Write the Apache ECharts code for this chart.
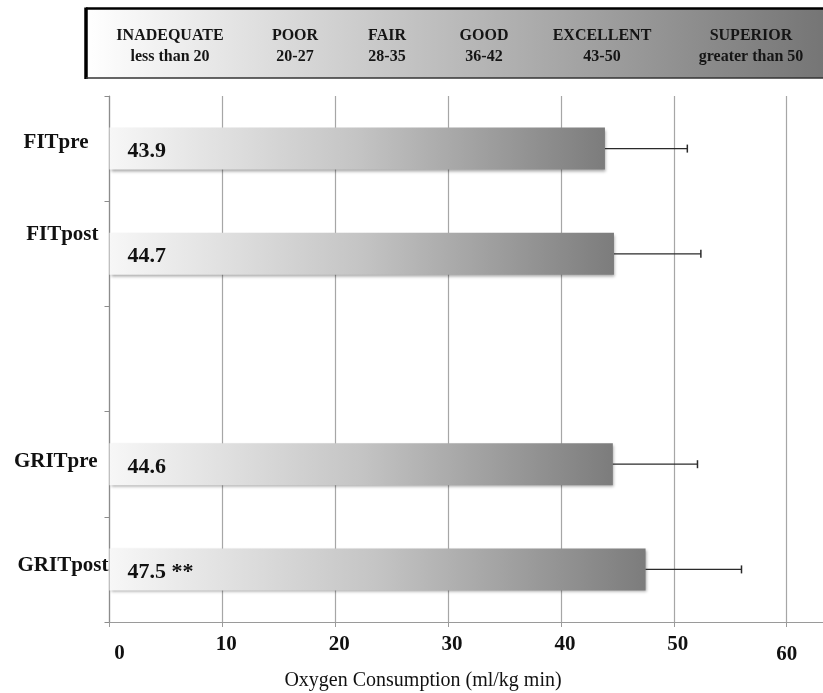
<!DOCTYPE html>
<html>
<head>
<meta charset="utf-8">
<title>Oxygen Consumption</title>
<script src="https://cdn.jsdelivr.net/npm/echarts@6/dist/echarts.min.js"></script>
<style>
  html, body { margin: 0; padding: 0; background: #ffffff; }
  #chart { width: 823px; height: 693px; }
</style>
</head>
<body>
<div id="chart"></div>
<script>
// Groups (blank slot separates FIT from GRIT)
const groups = ['FITpre', 'FITpost', '', 'GRITpre', 'GRITpost'];
// Mean VO2 (ml/kg min) and standard deviation
const means = [43.9, 44.7, null, 44.6, 47.5];
const sds = [7.3, 7.7, null, 7.5, 8.5];
// Significance marks appended to value labels
const marks = ['', '', '', '', ' **'];
// Fitness rating bands shown in the header strip
const bandNames = ['INADEQUATE', 'POOR', 'FAIR', 'GOOD', 'EXCELLENT', 'SUPERIOR'];
const bandRanges = ['less than 20', '20-27', '28-35', '36-42', '43-50', 'greater than 50'];
const axisTitle = 'Oxygen Consumption (ml/kg min)';

const SERIF = '"Liberation Serif", "Times New Roman", serif';

// Layout tweaks for the text elements
const bandCenters = [170, 295, 387, 484, 602, 751];
const groupNudge = [[21, 13], [11, 38], [0, 0], [12, 6], [1, 8]]; // [padRight, padBottom]
const tickNudge = { 0: [9, 20], 60: [10, 0] };                   // [padTop, padLeft]

const chart = echarts.init(document.getElementById('chart'), null, { renderer: 'canvas' });

const richGroups = {};
groupNudge.forEach((n, i) => {
  richGroups['g' + i] = {
    fontFamily: SERIF, fontWeight: 'bold', fontSize: 21, color: '#111',
    padding: [0, n[0], n[1], 0]
  };
});

const richTicks = {
  t: { fontFamily: SERIF, fontWeight: 'bold', fontSize: 21, color: '#111', padding: [0, 0, 0, 8] }
};
Object.keys(tickNudge).forEach(k => {
  richTicks['t' + k] = {
    fontFamily: SERIF, fontWeight: 'bold', fontSize: 21, color: '#111',
    padding: [tickNudge[k][0], 0, 0, tickNudge[k][1]]
  };
});

const errData = [];
means.forEach((m, i) => {
  if (m != null) errData.push([m, m + sds[i], i]);
});

const headerTexts = bandNames.map((name, i) => ({
  type: 'text',
  style: {
    text: name + '\n' + bandRanges[i],
    x: bandCenters[i], y: 46,
    align: 'center', verticalAlign: 'middle',
    font: 'bold 16px ' + SERIF,
    lineHeight: 21,
    fill: '#151515'
  },
  z: 10
}));

const option = {
  animation: false,
  backgroundColor: '#ffffff',
  // The value axis runs on past the right edge of the canvas (60 is the last visible tick)
  grid: {
    left: 109.5, top: 96, width: 790, height: 526,
    containLabel: false,
    outerBoundsMode: 'none'
  },
  xAxis: {
    type: 'value',
    min: 0, max: 70, interval: 10,
    axisLine: { show: true, lineStyle: { color: '#9a9a9a', width: 1.2 } },
    axisTick: { show: true, length: 5, lineStyle: { color: '#9a9a9a' } },
    splitLine: { show: true, lineStyle: { color: '#a6a6a6', width: 1.2 } },
    axisLabel: {
      margin: 12,
      formatter: v => (v > 60 ? '' : (tickNudge[v] ? '{t' + v + '|' + v + '}' : '{t|' + v + '}')),
      rich: richTicks
    }
  },
  yAxis: {
    type: 'category',
    inverse: true,
    data: groups,
    axisLine: { show: true, lineStyle: { color: '#8c8c8c', width: 1.2 } },
    axisTick: { show: true, length: 5, lineStyle: { color: '#8c8c8c' } },
    splitLine: { show: false },
    axisLabel: {
      margin: 0,
      formatter: (v, i) => (v ? '{g' + i + '|' + v + '}' : ''),
      rich: richGroups
    }
  },
  series: [
    {
      type: 'bar',
      data: means,
      barWidth: 42,
      itemStyle: {
        color: new echarts.graphic.LinearGradient(0, 0, 1, 0, [
          { offset: 0, color: '#f7f7f7' },
          { offset: 0.5, color: '#c4c4c4' },
          { offset: 1, color: '#7c7c7c' }
        ]),
        shadowColor: 'rgba(0,0,0,0.35)',
        shadowBlur: 3,
        shadowOffsetX: 1,
        shadowOffsetY: 2
      },
      label: {
        show: true,
        position: 'insideLeft',
        distance: 18,
        offset: [0, 3],
        formatter: p => (p.value == null ? '' : p.value.toFixed(1) + marks[p.dataIndex]),
        fontFamily: SERIF,
        fontWeight: 'bold',
        fontSize: 22,
        color: '#111'
      },
      z: 3
    },
    {
      type: 'custom',
      data: errData,
      encode: { x: [0, 1], y: 2 },
      renderItem: (params, api) => {
        const yi = api.value(2);
        const p0 = api.coord([api.value(0), yi]);
        const p1 = api.coord([api.value(1), yi]);
        const cap = 4;
        return {
          type: 'group',
          children: [
            { type: 'line', shape: { x1: p0[0], y1: p0[1], x2: p1[0], y2: p1[1] },
              style: { stroke: '#2a2a2a', lineWidth: 1.2 } },
            { type: 'line', shape: { x1: p1[0], y1: p1[1] - cap, x2: p1[0], y2: p1[1] + cap },
              style: { stroke: '#2a2a2a', lineWidth: 1.5 } }
          ]
        };
      },
      z: 4
    }
  ],
  graphic: [
    // Header strip with rating bands
    {
      type: 'rect',
      shape: { x: 86, y: 9, width: 760, height: 69 },
      style: {
        fill: new echarts.graphic.LinearGradient(0, 0, 1, 0, [
          { offset: 0, color: '#ffffff' },
          { offset: 1, color: '#717171' }
        ]),
        stroke: null
      },
      z: 5
    },
    { type: 'line', shape: { x1: 86, y1: 8.5, x2: 846, y2: 8.5 }, style: { stroke: '#000', lineWidth: 2.5 }, z: 6 },
    { type: 'line', shape: { x1: 86, y1: 7.5, x2: 86, y2: 79 }, style: { stroke: '#000', lineWidth: 3.5 }, z: 6 },
    { type: 'line', shape: { x1: 86, y1: 78, x2: 846, y2: 78 }, style: { stroke: '#333', lineWidth: 1.5 }, z: 6 },
    ...headerTexts,
    // Horizontal axis title
    {
      type: 'text',
      style: {
        text: axisTitle,
        x: 423, y: 681,
        align: 'center', verticalAlign: 'middle',
        font: '20px ' + SERIF,
        fill: '#111'
      },
      z: 10
    }
  ]
};

chart.setOption(option);
</script>
</body>
</html>
